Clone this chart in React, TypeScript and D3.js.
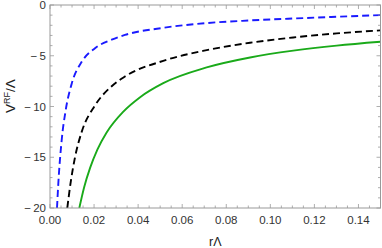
import React from "react";
import * as d3 from "d3";

const xTicks = [0, 0.02, 0.04, 0.06, 0.08, 0.1, 0.12, 0.14];
const yTicks = [0, -5, -10, -15, -20];

const blueR = [0.00318, 0.00377, 0.00531, 0.00713, 0.00985, 0.01439, 0.02042, 0.028, 0.034, 0.0514, 0.0711, 0.0908, 0.1104, 0.1301, 0.15];
const blueV = [-20, -17.6, -13.3, -10.35, -7.75, -5.6, -4.25, -3.42, -2.95, -2.25, -1.78, -1.52, -1.33, -1.16, -1.0];

const blackR = [0.00785, 0.0095, 0.01135, 0.01439, 0.02042, 0.028, 0.034, 0.0514, 0.0711, 0.0908, 0.1104, 0.1301, 0.15];
const blackV = [-20, -17.3, -15.0, -12.5, -9.9, -8.0, -7.05, -5.5, -4.45, -3.72, -3.2, -2.8, -2.5];

const greenR = [0.0133, 0.0155, 0.0182, 0.0215, 0.0257, 0.0333, 0.0409, 0.0514, 0.0711, 0.0908, 0.1104, 0.1301, 0.15];
const greenV = [-20, -17.95, -16.05, -14.25, -12.56, -10.5, -9.08, -7.7, -6.15, -5.17, -4.5, -4.0, -3.62];

const series = [
  { r: blueR, v: blueV, color: "#1a1aff", dash: "7,4" },
  { r: blackR, v: blackV, color: "#000000", dash: "7,4" },
  { r: greenR, v: greenV, color: "#1aaa1a", dash: "" },
];

export default function App() {
  const W = 382, H = 248;
  const L = 50, R = 380.5, T = 5, B = 208;
  const x = d3.scaleLinear().domain([0, 0.15]).range([L, R]);
  const y = d3.scaleLinear().domain([-20, 0]).range([B, T]);
  const line = d3
    .line<[number, number]>()
    .x((d) => x(d[0]))
    .y((d) => y(d[1]))
    .curve(d3.curveMonotoneX);

  const xMinor = d3.range(0, 0.1501, 0.005);
  const yMinor = d3.range(-20, 0.01, 1);
  const frame = "#999999";
  const font = "'Liberation Sans', Arial, sans-serif";
  const isMajorX = (t: number) => Math.abs(Math.round(t / 0.02) * 0.02 - t) < 1e-6;
  const isMajorY = (t: number) => Math.abs(Math.round(t / 5) * 5 - t) < 1e-6;

  return (
    <svg width={W} height={H} style={{ position: "absolute", left: 0, top: 0 }}>
      <defs>
        <clipPath id="plotclip">
          <rect x={L} y={T} width={R - L} height={B - T} />
        </clipPath>
      </defs>
      <g clipPath="url(#plotclip)">
        {series.map((s, i) => (
          <path
            key={i}
            d={line(s.r.map((r, j) => [r, s.v[j]] as [number, number])) || ""}
            fill="none"
            stroke={s.color}
            strokeWidth={1.9}
            strokeDasharray={s.dash || undefined}
          />
        ))}
      </g>
      <rect x={L} y={T} width={R - L} height={B - T} fill="none" stroke={frame} strokeWidth={1} />
      {xMinor.map((t, i) => {
        const len = isMajorX(t) ? 4 : 2.5;
        const px = x(t);
        return (
          <g key={"xt" + i} stroke={frame} strokeWidth={0.8}>
            <line x1={px} x2={px} y1={B} y2={B - len} />
            <line x1={px} x2={px} y1={T} y2={T + len} />
          </g>
        );
      })}
      {yMinor.map((t, i) => {
        const len = isMajorY(t) ? 4 : 2.5;
        const py = y(t);
        return (
          <g key={"yt" + i} stroke={frame} strokeWidth={0.8}>
            <line x1={L} x2={L + len} y1={py} y2={py} />
            <line x1={R} x2={R - len} y1={py} y2={py} />
          </g>
        );
      })}
      {xTicks.map((t, i) => (
        <text key={"xl" + i} x={x(t)} y={224} textAnchor="middle" fontFamily={font} fontSize={11.5} fill="#333">
          {t.toFixed(2)}
        </text>
      ))}
      {yTicks.map((t, i) => (
        <text key={"yl" + i} x={L - 4} y={y(t) + 4} textAnchor="end" fontFamily={font} fontSize={11.5} fill="#333">
          {t === 0 ? "0" : "\u2212\u2009" + Math.abs(t)}
        </text>
      ))}
      <text x={(L + R) / 2} y={246} textAnchor="middle" fontFamily={font} fontSize={12.5} fill="#222">
        rΛ
      </text>
      <text
        transform={`translate(15, ${96}) rotate(-90)`}
        textAnchor="middle"
        fontFamily={font}
        fontSize={13.5}
        fill="#222"
      >
        V<tspan fontSize={9} dy={-5}>RF</tspan>
        <tspan dy={5}>/Λ</tspan>
      </text>
    </svg>
  );
}
